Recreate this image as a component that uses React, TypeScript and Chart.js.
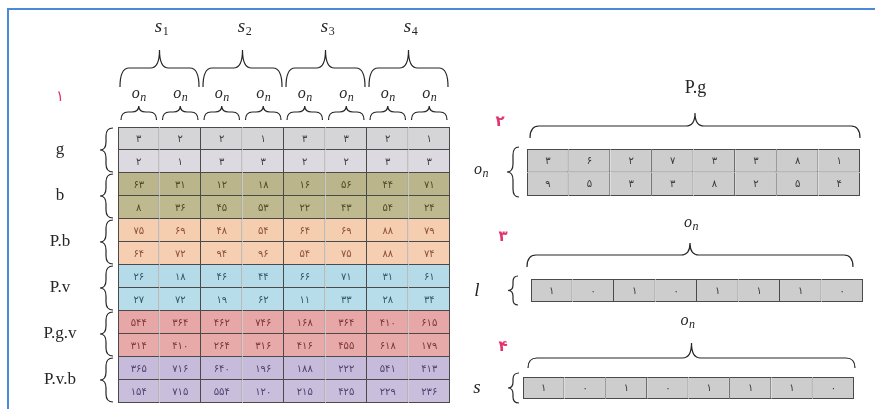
import React, { useEffect, useRef } from "react";
import { Chart, registerables } from "chart.js";

Chart.register(...registerables);

// ---------- data ----------
const columnLabels = ["o1", "o2", "o3", "o4", "o5", "o6", "o7", "o8"];
const groupLabels = ["1", "2", "3", "4"];
const rowGroupLabels = ["g", "b", "P.b", "P.v", "P.g.v", "P.v.b"];
const sectionNumbers = [1, 2, 3, 4];

const gRows = [
  [3, 2, 2, 1, 3, 3, 2, 1],
  [2, 1, 3, 3, 2, 2, 3, 3],
];
const bRows = [
  [63, 31, 12, 18, 16, 56, 44, 71],
  [8, 36, 45, 53, 22, 43, 54, 24],
];
const pbRows = [
  [75, 69, 48, 54, 64, 69, 88, 79],
  [64, 72, 94, 96, 54, 75, 88, 74],
];
const pvRows = [
  [26, 18, 46, 44, 66, 71, 31, 61],
  [27, 72, 19, 62, 11, 33, 28, 34],
];
const pgvRows = [
  [544, 364, 462, 746, 168, 364, 410, 615],
  [314, 410, 264, 316, 416, 455, 618, 179],
];
const pvbRows = [
  [365, 716, 640, 196, 188, 222, 541, 413],
  [154, 715, 554, 120, 215, 425, 229, 236],
];
const pgRows = [
  [3, 6, 2, 7, 3, 3, 8, 1],
  [9, 5, 3, 3, 8, 2, 5, 4],
];
const lRow = [1, 0, 1, 0, 1, 1, 1, 0];
const sRow = [1, 0, 1, 0, 1, 1, 1, 0];

// ---------- styles ----------
const groupFill = ["#d5d5d8", "#bab58a", "#f5cdaf", "#b5dbe9", "#e7a7a6", "#c7bbdb"];
const groupFill2 = ["#dcd9e1", "#beb98e", "#f6cfb2", "#b8ddea", "#e8aaa9", "#cabedd"];
const groupText = ["#3f3f3f", "#4e4a2a", "#8e5034", "#33596a", "#7e3539", "#51426f"];
const lineColor = "#4a4a4a";
const ink = "#262626";
const red = "#e2336b";
const SERIF = '"Liberation Serif", "DejaVu Serif", serif';
const DIGITS = '"DejaVu Sans", "Noto Sans", sans-serif';

const fa = (v: number) => String(v).replace(/\d/g, (d) => "۰۱۲۳۴۵۶۷۸۹"[Number(d)]);

// ---------- drawing helpers ----------
function hBrace(ctx: CanvasRenderingContext2D, x1: number, x2: number, yEnd: number, yLine: number, yTip: number) {
  const mid = (x1 + x2) / 2;
  const r = Math.min(9, (x2 - x1) / 5);
  ctx.beginPath();
  ctx.moveTo(x1, yEnd);
  ctx.quadraticCurveTo(x1, yLine, x1 + r, yLine);
  ctx.lineTo(mid - r, yLine);
  ctx.quadraticCurveTo(mid, yLine, mid, yTip);
  ctx.quadraticCurveTo(mid, yLine, mid + r, yLine);
  ctx.lineTo(x2 - r, yLine);
  ctx.quadraticCurveTo(x2, yLine, x2, yEnd);
  ctx.stroke();
}

function vBrace(ctx: CanvasRenderingContext2D, y1: number, y2: number, xEnd: number, xLine: number, xTip: number) {
  const mid = (y1 + y2) / 2;
  const r = Math.min(8, (y2 - y1) / 5);
  ctx.beginPath();
  ctx.moveTo(xEnd, y1);
  ctx.quadraticCurveTo(xLine, y1, xLine, y1 + r);
  ctx.lineTo(xLine, mid - r);
  ctx.quadraticCurveTo(xLine, mid, xTip, mid);
  ctx.quadraticCurveTo(xLine, mid, xLine, mid + r);
  ctx.lineTo(xLine, y2 - r);
  ctx.quadraticCurveTo(xLine, y2, xEnd, y2);
  ctx.stroke();
}

function drawSub(ctx: CanvasRenderingContext2D, base: string, sub: string, cx: number, cy: number, baseFont: string, subFont: string) {
  ctx.font = baseFont;
  const w1 = ctx.measureText(base).width;
  ctx.font = subFont;
  const w2 = ctx.measureText(sub).width;
  const x0 = cx - (w1 + w2) / 2;
  ctx.textAlign = "left";
  ctx.textBaseline = "alphabetic";
  ctx.font = baseFont;
  ctx.fillText(base, x0, cy + 4);
  ctx.font = subFont;
  ctx.fillText(sub, x0 + w1 + 0.5, cy + 7);
}

const drawOn = (ctx: CanvasRenderingContext2D, cx: number, cy: number) =>
  drawSub(ctx, "o", "n", cx, cy, `italic 16px ${SERIF}`, `italic 12px ${SERIF}`);

function label(ctx: CanvasRenderingContext2D, text: string, x: number, y: number, font: string, color = ink) {
  ctx.font = font;
  ctx.fillStyle = color;
  ctx.textAlign = "center";
  ctx.textBaseline = "middle";
  ctx.fillText(text, x, y);
}

type Decor = (ctx: CanvasRenderingContext2D, chart: any) => void;

function makeTable(
  canvas: HTMLCanvasElement,
  rows: number[][],
  fills: string[],
  texts: string[],
  padding: { left: number; top: number; right: number; bottom: number },
  decor: Decor
) {
  const cellText = {
    id: "cellText",
    afterDatasetsDraw(chart: any) {
      const ctx = chart.ctx as CanvasRenderingContext2D;
      ctx.save();
      ctx.font = `10px ${DIGITS}`;
      ctx.textAlign = "center";
      ctx.textBaseline = "middle";
      chart.data.datasets.forEach((ds: any, di: number) => {
        const meta = chart.getDatasetMeta(di);
        ctx.fillStyle = texts[di];
        meta.data.forEach((el: any, i: number) => {
          const p = el.getProps(["x", "y", "base"], true);
          ctx.fillText(fa(ds.values[i]), p.x, (p.y + p.base) / 2 + 0.5);
        });
      });
      ctx.restore();
    },
  };
  const decorPlugin = {
    id: "decor",
    afterDraw(chart: any) {
      const ctx = chart.ctx as CanvasRenderingContext2D;
      ctx.save();
      ctx.strokeStyle = ink;
      ctx.fillStyle = ink;
      ctx.lineWidth = 1.2;
      decor(ctx, chart);
      ctx.restore();
    },
  };
  return new Chart(canvas, {
    type: "bar",
    data: {
      labels: columnLabels,
      datasets: rows.map((row, r) => ({
        label: `row ${r + 1}`,
        data: row.map(() => 1),
        values: row,
        backgroundColor: fills[r],
        borderColor: lineColor,
        borderWidth: (c: any) => ({
          top: c.datasetIndex === 0 ? 1 : 0,
          left: c.dataIndex === 0 ? 1 : 0,
          right: 1,
          bottom: 1,
        }),
        borderSkipped: false,
        inflateAmount: 0,
        categoryPercentage: 1,
        barPercentage: 1,
      })) as any,
    },
    options: {
      responsive: false,
      animation: false,
      events: [],
      layout: { padding },
      plugins: { legend: { display: false }, tooltip: { enabled: false } },
      scales: {
        x: { display: false, stacked: true },
        y: { display: false, stacked: true, min: 0, max: rows.length, reverse: true },
      },
    } as any,
    plugins: [cellText, decorPlugin],
  });
}

const colEdge = (chart: any, i: number) => {
  const xs = chart.scales.x;
  const w = xs.getPixelForValue(1) - xs.getPixelForValue(0);
  return xs.getPixelForValue(i) - w / 2;
};

// ---------- decorations ----------
const leftDecor: Decor = (ctx, chart) => {
  const { left, top } = chart.chartArea;
  const ys = chart.scales.y;
  groupLabels.forEach((g, k) => {
    const a = colEdge(chart, 2 * k);
    const b = colEdge(chart, 2 * k + 2);
    ctx.fillStyle = ink;
    drawSub(ctx, "s", g, (a + b) / 2 + 2, top - 99, `italic 19px ${SERIF}`, `12px ${SERIF}`);
    hBrace(ctx, a + 2, b - 2, top - 40, top - 59, top - 77);
  });
  columnLabels.forEach((_, i) => {
    const a = colEdge(chart, i);
    const b = colEdge(chart, i + 1);
    ctx.fillStyle = ink;
    drawOn(ctx, (a + b) / 2, top - 33);
    hBrace(ctx, a + 3, b - 3, top - 7, top - 15, top - 21);
  });
  rowGroupLabels.forEach((name, k) => {
    const y1 = ys.getPixelForValue(2 * k);
    const y2 = ys.getPixelForValue(2 * k + 2);
    label(ctx, name, left - 58, (y1 + y2) / 2, `17px ${SERIF}`);
    vBrace(ctx, y1 + 1, y2 - 1, left - 5, left - 12, left - 18);
  });
  label(ctx, fa(sectionNumbers[0]), left - 58, top - 30, `15px ${DIGITS}`, red);
};

const pgDecor: Decor = (ctx, chart) => {
  const { left, top, right, bottom } = chart.chartArea;
  label(ctx, "P.g", (left + right) / 2 + 2, top - 61, `18px ${SERIF}`);
  label(ctx, fa(sectionNumbers[1]), left - 27, top - 27, `bold 15px ${DIGITS}`, red);
  hBrace(ctx, left + 3, right, top - 11, top - 23, top - 36);
  ctx.fillStyle = ink;
  drawOn(ctx, left - 46, (top + bottom) / 2 - 3);
  vBrace(ctx, top - 2, bottom + 1, left - 8, left - 14, left - 20);
};

const lDecor: Decor = (ctx, chart) => {
  const { left, top, right, bottom } = chart.chartArea;
  ctx.fillStyle = ink;
  drawOn(ctx, (left + right) / 2 - 6, top - 56);
  label(ctx, fa(sectionNumbers[2]), left - 28, top - 42, `bold 15px ${DIGITS}`, red);
  hBrace(ctx, left - 4, right - 10, top - 12, top - 24, top - 36);
  label(ctx, "l", left - 54, (top + bottom) / 2, `italic 19px ${SERIF}`);
  vBrace(ctx, top - 3, bottom + 3, left - 13, left - 18, left - 23);
};

const sDecor: Decor = (ctx, chart) => {
  const { left, top, right, bottom } = chart.chartArea;
  ctx.fillStyle = ink;
  drawOn(ctx, (left + right) / 2 - 1, top - 56);
  label(ctx, fa(sectionNumbers[3]), left - 20, top - 30, `bold 15px ${DIGITS}`, red);
  hBrace(ctx, left + 5, right + 1, top - 9, top - 19, top - 34);
  label(ctx, "s", left - 46, (top + bottom) / 2, `italic 19px ${SERIF}`);
  vBrace(ctx, top - 4, bottom + 4, left - 4, left - 10, left - 15);
};

// ---------- layout of canvases (page px) ----------
const boxes = {
  left: { x: 0, y: 0, w: 465, h: 409, pad: { left: 118, top: 127, right: 15, bottom: 6 } },
  pg: { x: 460, y: 60, w: 415, h: 145, pad: { left: 67, top: 89, right: 15, bottom: 9 } },
  l: { x: 460, y: 205, w: 415, h: 105, pad: { left: 71, top: 74, right: 12, bottom: 8 } },
  s: { x: 460, y: 310, w: 415, h: 99, pad: { left: 63, top: 67, right: 21, bottom: 10 } },
};

export default function App() {
  const leftRef = useRef<HTMLCanvasElement>(null);
  const pgRef = useRef<HTMLCanvasElement>(null);
  const lRef = useRef<HTMLCanvasElement>(null);
  const sRef = useRef<HTMLCanvasElement>(null);

  useEffect(() => {
    const leftRows = [...gRows, ...bRows, ...pbRows, ...pvRows, ...pgvRows, ...pvbRows];
    const leftFills = leftRows.map((_, r) => (r % 2 === 0 ? groupFill : groupFill2)[Math.floor(r / 2)]);
    const leftTexts = leftRows.map((_, r) => groupText[Math.floor(r / 2)]);
    const grey = "#cdcdcd";
    const greyText = "#3a3a3a";
    const charts = [
      makeTable(leftRef.current!, leftRows, leftFills, leftTexts, boxes.left.pad, leftDecor),
      makeTable(pgRef.current!, pgRows, [grey, grey], [greyText, greyText], boxes.pg.pad, pgDecor),
      makeTable(lRef.current!, [lRow], [grey], [greyText], boxes.l.pad, lDecor),
      makeTable(sRef.current!, [sRow], [grey], [greyText], boxes.s.pad, sDecor),
    ];
    return () => charts.forEach((c) => c.destroy());
  }, []);

  const canvasStyle = (b: { x: number; y: number; w: number; h: number }): React.CSSProperties => ({
    position: "absolute",
    left: b.x,
    top: b.y,
    width: b.w,
    height: b.h,
  });

  return (
    <div
      style={{
        position: "absolute",
        left: 0,
        top: 0,
        width: 875,
        height: 409,
        overflow: "hidden",
        background: "#ffffff",
      }}
    >
      <div
        style={{
          position: "absolute",
          left: 7,
          top: 8,
          width: 900,
          height: 450,
          borderTop: "2px solid #4b89d9",
          borderLeft: "2px solid #4b89d9",
        }}
      />
      <canvas ref={leftRef} width={boxes.left.w} height={boxes.left.h} style={canvasStyle(boxes.left)} />
      <canvas ref={pgRef} width={boxes.pg.w} height={boxes.pg.h} style={canvasStyle(boxes.pg)} />
      <canvas ref={lRef} width={boxes.l.w} height={boxes.l.h} style={canvasStyle(boxes.l)} />
      <canvas ref={sRef} width={boxes.s.w} height={boxes.s.h} style={canvasStyle(boxes.s)} />
    </div>
  );
}
